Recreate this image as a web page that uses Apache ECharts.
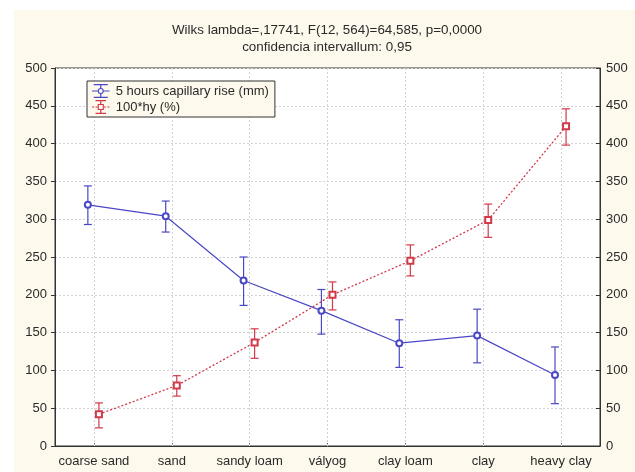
<!DOCTYPE html>
<html>
<head>
<meta charset="utf-8">
<script src="https://cdn.jsdelivr.net/npm/echarts@6/dist/echarts.min.js"></script>
<style>
html,body{margin:0;padding:0;background:#fff;}
#chart{width:635px;height:472px;}
</style>
</head>
<body>
<div id="chart"></div>
<script>
// ---- data ----
var categories = ['coarse sand', 'sand', 'sandy loam', 'vályog', 'clay loam', 'clay', 'heavy clay'];
var riseMean = [319, 304, 219, 179, 136, 146, 94];
var riseLow  = [293, 283, 186, 148, 104, 110, 56];
var riseHigh = [344, 324, 250, 207, 167, 181, 131];
var hyMean = [42, 80, 137, 200, 245, 299, 423];
var hyLow  = [24, 66, 116, 180, 225, 276, 398];
var hyHigh = [57, 93, 155, 217, 266, 320, 446];
var titleLine1 = 'Wilks lambda=,17741, F(12, 564)=64,585, p=0,0000';
var titleLine2 = 'confidencia intervallum: 0,95';
var riseName = '5 hours capillary rise (mm)';
var hyName = '100*hy (%)';

// ---- style ----
var BLUE = '#4a48c4';
var RED = '#d03a4a';
var DODGE_RISE = -0.078;
var DODGE_HY = 0.064;
var FONT = 'Liberation Sans, Arial, sans-serif';
var TXT = '#2a2a2a';
var GRIDC = '#d2d2d2';

function pts(vals, dodge) {
  return vals.map(function (v, i) { return [i + dodge, v]; });
}
function bars(lo, hi, dodge) {
  return lo.map(function (l, i) { return [i + dodge, l, hi[i]]; });
}
function errRender(color) {
  return function (params, api) {
    var x = api.value(0);
    var b = api.coord([x, api.value(1)]);
    var t = api.coord([x, api.value(2)]);
    var w = 4;
    var st = { stroke: color, lineWidth: 1.2 };
    return {
      type: 'group',
      children: [
        { type: 'line', shape: { x1: t[0], y1: t[1], x2: b[0], y2: b[1] }, style: st },
        { type: 'line', shape: { x1: t[0] - w, y1: t[1], x2: t[0] + w, y2: t[1] }, style: st },
        { type: 'line', shape: { x1: b[0] - w, y1: b[1], x2: b[0] + w, y2: b[1] }, style: st }
      ]
    };
  };
}

var iconPath = 'path://M2,0H18V1.5H2Z M2,14.5H18V16H2Z M9.3,0H10.7V4.5H9.3Z M9.3,11.5H10.7V16H9.3Z M0,7.3H6.5V8.7H0Z M13.5,7.3H20V8.7H13.5Z M13.5,8A3.5,3.5 0 1,0 6.5,8A3.5,3.5 0 1,0 13.5,8Z M12.2,8A2.2,2.2 0 1,1 7.8,8A2.2,2.2 0 1,1 12.2,8Z';
var iconPathRed = 'path://M4,0H16V1.5H4Z M4,14.5H16V16H4Z M9.3,0H10.7V4.5H9.3Z M9.3,11.5H10.7V16H9.3Z M0,7.3H2.5V8.7H0Z M4,7.3H6.3V8.7H4Z M13.7,7.3H16V8.7H13.7Z M17.5,7.3H20V8.7H17.5Z M6.5,4.5H13.5V11.5H6.5Z M7.8,5.8V10.2H12.2V5.8Z';

var chart = echarts.init(document.getElementById('chart'), null, { renderer: 'canvas' });
chart.setOption({
  backgroundColor: '#ffffff',
  animation: false,
  textStyle: { fontFamily: FONT },
  graphic: [{
    type: 'rect', left: 14, top: 10, z: -10,
    shape: { width: 621, height: 462 },
    style: { fill: '#fdf9ec' }, silent: true
  }],
  title: [
    { text: titleLine1, left: 322, top: 19, textAlign: 'center',
      textStyle: { fontSize: 13.4, fontWeight: 'normal', color: TXT, fontFamily: FONT } },
    { text: titleLine2, left: 322, top: 36, textAlign: 'center',
      textStyle: { fontSize: 13.4, fontWeight: 'normal', color: TXT, fontFamily: FONT } }
  ],
  legend: {
    orient: 'vertical', left: 87, top: 81,
    padding: [3, 6, 3, 5], itemGap: 2, itemWidth: 20, itemHeight: 14,
    backgroundColor: '#fdf9ec', borderColor: '#333', borderWidth: 1,
    textStyle: { fontSize: 13, color: TXT, fontFamily: FONT },
    data: [
      { name: riseName, icon: iconPath, itemStyle: { color: BLUE } },
      { name: hyName, icon: iconPathRed, itemStyle: { color: RED } }
    ]
  },
  grid: { left: 55, right: 35, top: 68, bottom: 26, show: true, backgroundColor: '#fff', borderColor: '#333', borderWidth: 1 },
  xAxis: [
    { type: 'category', data: categories, boundaryGap: true,
      axisLine: { lineStyle: { color: '#333' } },
      axisTick: { show: true, inside: true, length: 3, alignWithLabel: true, lineStyle: { color: '#555' } },
      axisLabel: { fontSize: 13, color: TXT, margin: 9, interval: 0, fontFamily: FONT },
      splitLine: { show: false } },
    { type: 'value', min: -0.5, max: 6.5, show: false,
      splitLine: { show: false } }
  ],
  yAxis: [
    { type: 'value', min: 0, max: 500, interval: 50, position: 'left',
      axisLine: { show: true, onZero: false, lineStyle: { color: '#333' } },
      axisTick: { show: true, inside: false, length: 4, lineStyle: { color: '#333' } },
      axisLabel: { fontSize: 13, color: TXT, margin: 8, fontFamily: FONT },
      splitLine: { show: true, lineStyle: { color: GRIDC, type: [2, 2], width: 1 } } },
    { type: 'value', min: 0, max: 500, interval: 50, position: 'right',
      axisLine: { show: true, onZero: false, lineStyle: { color: '#333' } },
      axisTick: { show: true, inside: true, length: 4, lineStyle: { color: '#333' } },
      axisLabel: { fontSize: 13, color: TXT, margin: 6, fontFamily: FONT },
      splitLine: { show: false } }
  ],
  series: [
    { name: 'vgrid', type: 'line', xAxisIndex: 1, yAxisIndex: 0, z: 1,
      data: pts(riseMean, 0), symbol: 'none', silent: true,
      lineStyle: { opacity: 0 },
      markLine: {
        silent: true, symbol: 'none', z: 1, animation: false,
        label: { show: false },
        lineStyle: { color: GRIDC, type: [2, 2], width: 1 },
        data: categories.map(function (c, i) { return { xAxis: i }; })
      } },
    { name: 'riseErr', type: 'custom', xAxisIndex: 1, yAxisIndex: 0, z: 3,
      renderItem: errRender(BLUE), data: bars(riseLow, riseHigh, DODGE_RISE), silent: true },
    { name: 'hyErr', type: 'custom', xAxisIndex: 1, yAxisIndex: 0, z: 3,
      renderItem: errRender(RED), data: bars(hyLow, hyHigh, DODGE_HY), silent: true },
    { name: riseName, type: 'line', xAxisIndex: 1, yAxisIndex: 0, z: 4,
      data: pts(riseMean, DODGE_RISE), symbol: 'emptyCircle', symbolSize: 6,
      itemStyle: { color: BLUE, borderWidth: 1 },
      lineStyle: { color: BLUE, width: 1.2 } },
    { name: hyName, type: 'line', xAxisIndex: 1, yAxisIndex: 0, z: 4,
      data: pts(hyMean, DODGE_HY), symbol: 'emptyRect', symbolSize: 6,
      itemStyle: { color: RED, borderWidth: 1 },
      lineStyle: { color: RED, width: 1.3, type: [2, 2] } }
  ]
});
</script>
</body>
</html>
